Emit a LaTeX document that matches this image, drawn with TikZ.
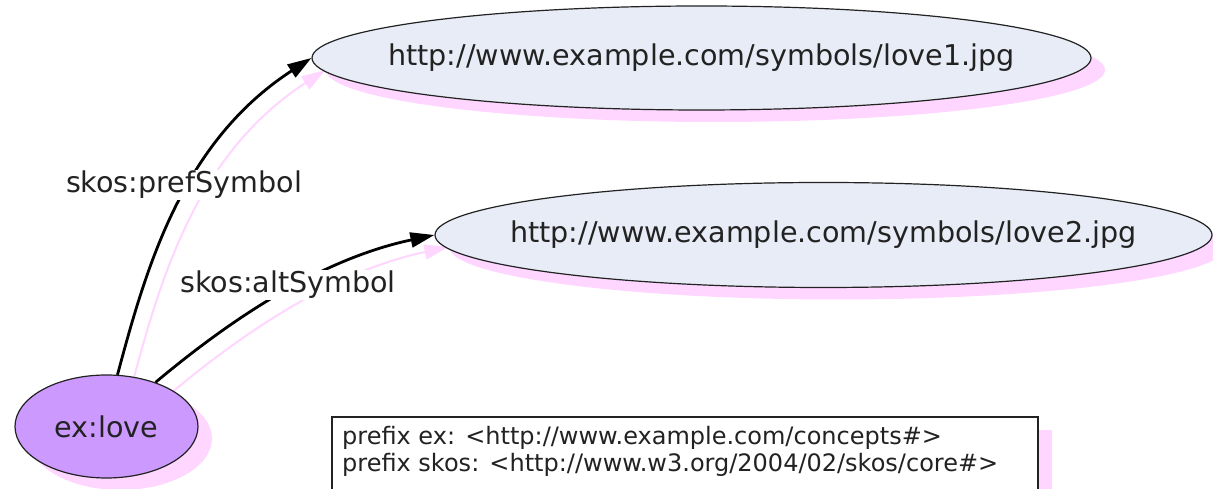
\documentclass[tikz,border=0pt]{standalone}
\usepackage{fontspec}
\setmainfont{DejaVu Sans}
\usetikzlibrary{arrows.meta,shapes.geometric,shadows}

\definecolor{shadowpink}{RGB}{255,214,255}
\definecolor{resfill}{RGB}{232,236,246}
\definecolor{conceptfill}{RGB}{204,153,255}
\definecolor{inkgray}{RGB}{34,34,34}

\pgfdeclarelayer{bg}
\pgfsetlayers{bg,main}

% text of zero width, so that an ellipse keeps its given size
\newcommand{\flatlabel}[1]{\makebox[0pt][c]{#1}}

\begin{document}
\begin{tikzpicture}[x=1pt,y=1pt,
  bigfont/.style={font=\fontsize{28.6}{34}\selectfont},
  smallfont/.style={font=\fontsize{24}{28}\selectfont},
  pinkshadow/.style={drop shadow={shadow xshift=14pt,shadow yshift=-12pt,fill=shadowpink,opacity=1}},
  nodebase/.style={ellipse,draw=inkgray,line width=1.2pt,inner sep=0pt,bigfont,text=inkgray,pinkshadow},
  resource/.style={nodebase,fill=resfill},
  concept/.style={nodebase,fill=conceptfill},
  relation/.style={line width=2.8pt,draw=black,-{Triangle[length=24pt,width=15pt]}},
  relshadow/.style={line width=2pt,draw=shadowpink,-{Triangle[length=24pt,width=15pt]},
    transform canvas={shift={(14pt,-12pt)}}},
  prefcurve/.style={out=75,in=213,out distance=110pt,in distance=155pt},
  altcurve/.style={out=40,in=192,distance=110pt},
  edgelabel/.style={bigfont,text=inkgray,fill=white,inner sep=1.5pt},
  prefixline/.style={smallfont,text=inkgray,anchor=base west,inner sep=0pt}
]
\clip (0,0) rectangle (1213,489);

% resources and the concept
\node[resource,minimum width=779pt,minimum height=104pt] (love1) at (701.5,431)
  {\flatlabel{http://www.example.com/symbols/love1.jpg}};
\node[resource,minimum width=777pt,minimum height=105pt] (love2) at (823.5,254)
  {\flatlabel{http://www.example.com/symbols/love2.jpg}};
\node[concept,minimum width=183pt,minimum height=103pt] (love) at (106.5,62.5)
  {\flatlabel{ex:love}};

% shadows of the relations, behind everything
\begin{pgfonlayer}{bg}
  \draw[relshadow] (love.78) to[prefcurve] (love1.west);
  \draw[relshadow] (love.42) to[altcurve] (love2.west);
\end{pgfonlayer}

% relations
\draw[relation] (love.78) to[prefcurve] (love1.west);
\draw[relation] (love.42) to[altcurve] (love2.west);

% relation labels
\node[edgelabel] (lblpref) at (184,304) {skos:prefSymbol};
\node[edgelabel] (lblalt) at (288,204) {skos:altSymbol};

% prefix declarations
\fill[shadowpink] (346,59) rectangle (1052,-20);
\draw[fill=white,draw=inkgray,line width=1.2pt] (332,72) rectangle (1038,-20);
\node[prefixline] (prefex) at (342,44) {prefix ex: <http://www.example.com/concepts\#>};
\node[prefixline] (prefskos) at (342,17) {prefix skos: <http://www.w3.org/2004/02/skos/core\#>};
\end{tikzpicture}
\end{document}
